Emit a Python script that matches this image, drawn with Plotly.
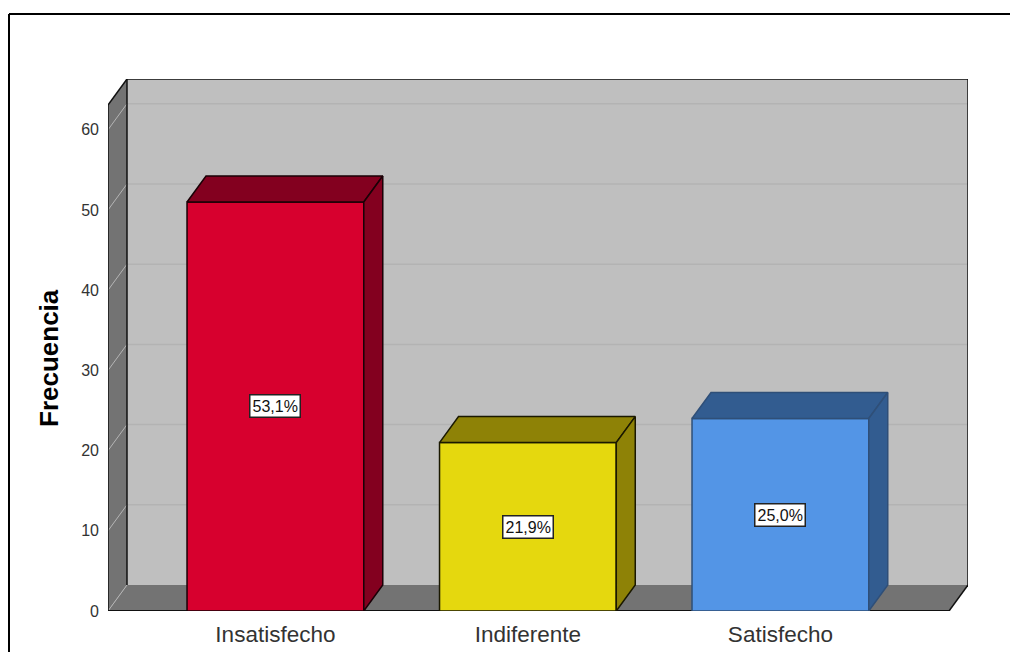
import plotly.graph_objects as go

# Survey results: respondents per satisfaction level
categories = ["Insatisfecho", "Indiferente", "Satisfecho"]
frequencies = [51, 21, 24]
percent_labels = ["53,1%", "21,9%", "25,0%"]
y_ticks = [0, 10, 20, 30, 40, 50, 60]

front_colors = ["#D7002E", "#E5D80E", "#5395E6"]
shade_colors = ["#83001F", "#8E8206", "#325C90"]
edge_colors = ["#1A0006", "#1A1800", "#2F4F78"]

# Pseudo-3D box geometry, in axis units
BAR_WIDTH = 0.70
DEPTH_X = 0.0752
DEPTH_Y = 3.24
X_MIN, X_MAX = -0.663, 2.743
Y_MAX = 66.33
WALL_TOP = Y_MAX - DEPTH_Y
FRONT_RIGHT = X_MAX - DEPTH_X
X_POSITIONS = list(range(len(categories)))

WALL_GREY = "#BFBFBF"
SIDE_GREY = "#737373"
GRID_GREY = "#B3B3B3"
DIAGONAL_GREY = "#B5B5B5"


def polygon(xs, ys, fill, line=None, width=0):
    path = "M " + " L ".join(f"{x},{y}" for x, y in zip(xs, ys)) + " Z"
    return dict(type="path", path=path, xref="x", yref="y", layer="below",
                fillcolor=fill, line=dict(color=line or fill, width=width))


def segment(x0, y0, x1, y1, color, width=1):
    return dict(type="line", x0=x0, y0=y0, x1=x1, y1=y1, xref="x", yref="y",
                layer="below", line=dict(color=color, width=width))


shapes = [
    # back wall, left wall and floor
    polygon([X_MIN + DEPTH_X, X_MAX, X_MAX, X_MIN + DEPTH_X],
            [DEPTH_Y, DEPTH_Y, Y_MAX, Y_MAX], WALL_GREY),
    polygon([X_MIN, X_MIN + DEPTH_X, FRONT_RIGHT + DEPTH_X, FRONT_RIGHT],
            [0, DEPTH_Y, DEPTH_Y, 0], SIDE_GREY),
    polygon([X_MIN, X_MIN + DEPTH_X, X_MIN + DEPTH_X, X_MIN],
            [0, DEPTH_Y, Y_MAX, WALL_TOP], SIDE_GREY),
]
for tick in y_ticks[1:]:
    shapes.append(segment(X_MIN + DEPTH_X, tick + DEPTH_Y, X_MAX, tick + DEPTH_Y, GRID_GREY, 1.5))
    shapes.append(segment(X_MIN, tick, X_MIN + DEPTH_X, tick + DEPTH_Y, DIAGONAL_GREY, 1))
shapes.append(segment(X_MIN, 0, X_MIN + DEPTH_X, DEPTH_Y, DIAGONAL_GREY, 1))

# Wall outlines
shapes += [
    segment(X_MIN, 0, X_MIN, WALL_TOP, "#111111", 1.5),
    segment(X_MIN, WALL_TOP, X_MIN + DEPTH_X, Y_MAX, "#111111", 1.5),
    segment(X_MIN + DEPTH_X, DEPTH_Y, X_MIN + DEPTH_X, Y_MAX, "#111111", 1.5),
    segment(X_MIN + DEPTH_X, Y_MAX, X_MAX, Y_MAX, "#111111", 1.5),
    segment(X_MAX, DEPTH_Y, X_MAX, Y_MAX, "#111111", 1.5),
    segment(X_MAX, DEPTH_Y, FRONT_RIGHT, 0, "#111111", 1.5),
    segment(X_MIN, 0, FRONT_RIGHT, 0, "#111111", 2),
]

# Page frame around the chart area
PX_W, PX_H = 860, 532
page_x = lambda px: (px - 108) / PX_W
page_y = lambda py: (611 - py) / PX_H
frame = dict(color="#000000", width=2)
shapes += [
    dict(type="line", xref="paper", yref="paper", x0=page_x(9), y0=page_y(14),
         x1=page_x(1010), y1=page_y(14), line=frame),
    dict(type="line", xref="paper", yref="paper", x0=page_x(9), y0=page_y(14),
         x1=page_x(9), y1=page_y(652), line=frame),
]

fig = go.Figure()

fig.add_trace(go.Bar(
    x=X_POSITIONS, y=frequencies, width=BAR_WIDTH,
    marker=dict(color=front_colors, line=dict(color=edge_colors, width=1.5)),
    hoverinfo="skip", showlegend=False,
))

# Top and side faces of each box
half = BAR_WIDTH / 2
for pos, value, shade, edge in zip(X_POSITIONS, frequencies, shade_colors, edge_colors):
    fig.add_trace(go.Scatter(
        x=[pos - half, pos - half + DEPTH_X, pos + half + DEPTH_X, pos + half, pos - half],
        y=[value, value + DEPTH_Y, value + DEPTH_Y, value, value],
        mode="lines", fill="toself", fillcolor=shade,
        line=dict(color=edge, width=1.5), hoverinfo="skip", showlegend=False,
    ))
    fig.add_trace(go.Scatter(
        x=[pos + half, pos + half + DEPTH_X, pos + half + DEPTH_X, pos + half, pos + half],
        y=[0, DEPTH_Y, value + DEPTH_Y, value, 0],
        mode="lines", fill="toself", fillcolor=shade,
        line=dict(color=edge, width=1.5), hoverinfo="skip", showlegend=False,
    ))

annotations = [
    dict(x=pos, y=value / 2, xref="x", yref="y", text=label, showarrow=False,
         font=dict(family="Liberation Sans", size=16, color="#111111"),
         bgcolor="#FFFFFF", bordercolor="#222222", borderwidth=1.5, borderpad=2)
    for pos, value, label in zip(X_POSITIONS, frequencies, percent_labels)
]
# Axis name sits centred on the front face of the left wall
annotations.append(dict(
    x=page_x(49), y=page_y(358), xref="paper", yref="paper", text="<b>Frecuencia</b>",
    textangle=-90, showarrow=False, xanchor="center", yanchor="middle",
    font=dict(family="Liberation Sans", size=26, color="#000000"),
))

fig.update_layout(
    width=1010, height=652,
    margin=dict(l=108, r=42, t=79, b=41),
    paper_bgcolor="#FFFFFF", plot_bgcolor="#FFFFFF",
    shapes=shapes, annotations=annotations,
    xaxis=dict(range=[X_MIN, X_MAX], tickvals=X_POSITIONS, ticktext=categories,
               automargin=False, showgrid=False, zeroline=False, showline=False,
               ticks="outside", ticklen=3, tickcolor="rgba(0,0,0,0)",
               tickfont=dict(family="Liberation Sans", size=22.5, color="#333333")),
    yaxis=dict(range=[0, Y_MAX], tickvals=y_ticks, automargin=False,
               showgrid=False, zeroline=False, showline=False, ticks="",
               ticklabelstandoff=8,
               tickfont=dict(family="Liberation Sans", size=16, color="#333333")),
)

fig.write_html("out.html", config=dict(displayModeBar=False))
